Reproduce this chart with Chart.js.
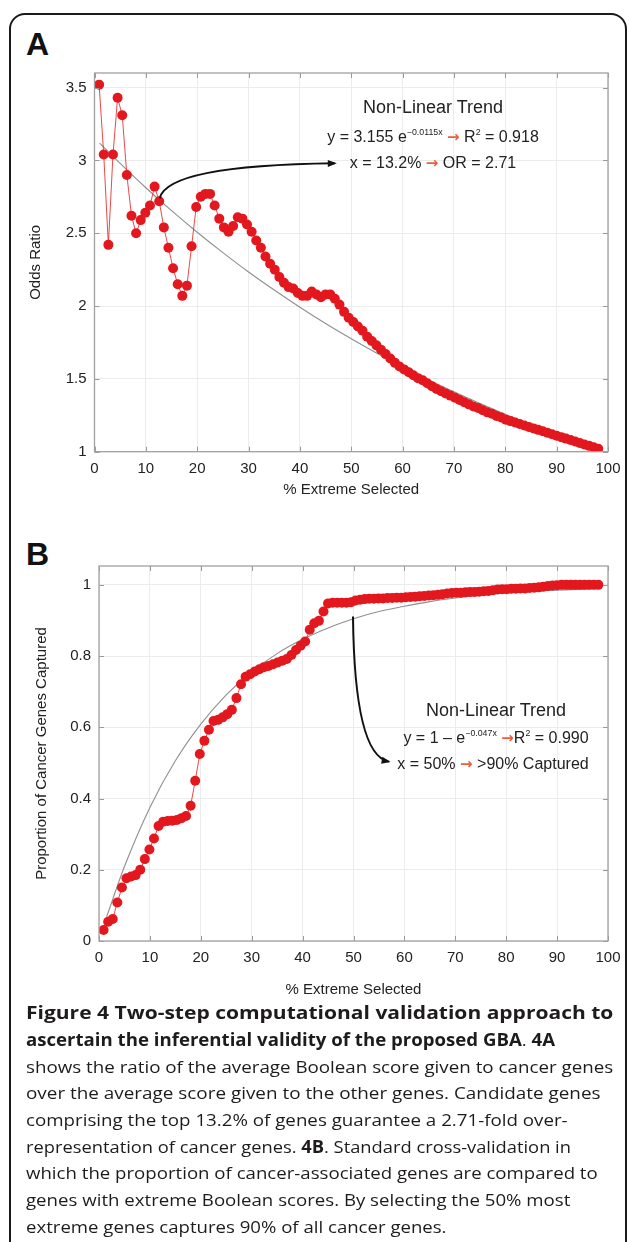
<!DOCTYPE html>
<html><head><meta charset="utf-8">
<script src="https://cdn.jsdelivr.net/npm/chart.js@4.4.0/dist/chart.umd.min.js"></script>
<style>
html,body{margin:0;padding:0;background:#fff;}
body{width:629px;height:1242px;position:relative;overflow:hidden;font-family:"Liberation Sans",Arial,sans-serif;}
#frame{position:absolute;left:9px;top:13px;width:618px;height:1300px;border:2px solid #1a1a1a;border-radius:16px;box-sizing:border-box;}
.panel{position:absolute;left:26px;font-weight:bold;font-size:32px;line-height:32px;color:#111;}
canvas{position:absolute;left:0;}
.ann{position:absolute;color:#222;white-space:nowrap;transform:translate(-50%,-50%);line-height:20px;}
.ann.t{font-size:18px;}
.ann.e{font-size:16px;}
.arr{color:#e8603a;font-family:"DejaVu Sans",sans-serif;font-weight:bold;font-size:15px;}
sup{font-size:0.55em;vertical-align:0.75em;line-height:0;}
.cap{position:absolute;left:26px;white-space:nowrap;font-family:"Open Sans",sans-serif;font-size:17px;line-height:20px;color:#1e1b1c;transform-origin:0 50%;}
.cap.b{font-weight:bold;}
</style>
</head><body>
<div id="frame"></div>
<div class="panel" style="top:28px">A</div>
<div class="panel" style="top:538px">B</div>
<canvas id="cA" width="629" height="520" style="top:0"></canvas>
<canvas id="cB" width="629" height="490" style="top:520px"></canvas>

<div class="ann t" style="left:433px;top:107px">Non-Linear Trend</div>
<div class="ann e" style="left:433px;top:137px">y = 3.155 e<sup>−0.0115x</sup> <span class="arr">→</span> R<sup>2</sup> = 0.918</div>
<div class="ann e" style="left:433px;top:163px">x = 13.2% <span class="arr">→</span> OR = 2.71</div>

<div class="ann t" style="left:496px;top:710px">Non-Linear Trend</div>
<div class="ann e" style="left:496px;top:738px">y = 1 – e<sup>−0.047x</sup> <span class="arr">→</span>R<sup>2</sup> = 0.990</div>
<div class="ann e" style="left:493px;top:764px">x = 50% <span class="arr">→</span> &gt;90% Captured</div>

<div class="cap b" data-w="587" style="top:1003px">Figure 4 Two-step computational validation approach to</div>
<div class="cap b" data-w="529" style="top:1030px">ascertain the inferential validity of the proposed GBA<span style="font-weight:normal">.</span> 4A</div>
<div class="cap" data-w="587" style="top:1057px">shows the ratio of the average Boolean score given to cancer genes</div>
<div class="cap" data-w="574" style="top:1083px">over the average score given to the other genes. Candidate genes</div>
<div class="cap" data-w="542" style="top:1110px">comprising the top 13.2% of genes guarantee a 2.71-fold over-</div>
<div class="cap" data-w="545" style="top:1137px">representation of cancer genes. <b>4B</b>. Standard cross-validation in</div>
<div class="cap" data-w="572" style="top:1163px">which the proportion of cancer-associated genes are compared to</div>
<div class="cap" data-w="544" style="top:1190px">genes with extreme Boolean scores. By selecting the 50% most</div>
<div class="cap" data-w="421" style="top:1217px">extreme genes captures 90% of all cancer genes.</div>

<script>
// ---------- Data ----------
const xA = [0.9,1.8,2.7,3.6,4.5,5.4,6.3,7.2,8.1,9.0,9.9,10.8,11.7,12.6,13.5,14.4,15.3,16.2,17.1,18.0,
  18.9,19.8,20.7,21.6,22.5,23.4,24.3,25.2,26.1,27.0,27.9,28.8,29.7,30.6,31.5,32.4,33.3,34.2,35.1,36.0,
  36.9,37.8,38.7,39.6,40.5,41.4,42.3,43.2,44.1,45.0,45.9,46.8,47.7,48.6,49.5,50.4,51.3,52.2,53.1,54.0,
  54.9,55.8,56.7,57.6,58.5,59.4,60.3,61.2,62.1,63.0,63.9,64.8,65.7,66.6,67.5,68.4,69.3,70.2,71.1,72.0,
  72.9,73.8,74.7,75.6,76.5,77.4,78.3,79.2,80.1,81.0,81.9,82.8,83.7,84.6,85.5,86.4,87.3,88.2,89.1,90.0,
  90.9,91.8,92.7,93.6,94.5,95.4,96.3,97.2,98.1];
const oddsRatio = [3.52,3.04,2.42,3.04,3.43,3.31,2.90,2.62,2.50,2.59,2.64,2.69,2.82,2.72,2.54,2.40,2.26,2.15,2.07,2.14,
  2.41,2.68,2.75,2.77,2.77,2.69,2.60,2.54,2.51,2.55,2.61,2.60,2.56,2.51,2.45,2.40,2.34,2.29,2.25,2.20,
  2.16,2.13,2.12,2.09,2.07,2.07,2.10,2.08,2.06,2.08,2.08,2.05,2.01,1.96,1.92,1.89,1.86,1.83,1.79,1.76,
  1.73,1.70,1.67,1.64,1.61,1.585,1.565,1.545,1.525,1.505,1.49,1.47,1.45,1.43,1.415,1.40,1.385,1.37,1.355,1.34,
  1.325,1.31,1.30,1.285,1.27,1.26,1.245,1.235,1.22,1.21,1.20,1.19,1.18,1.17,1.16,1.15,1.14,1.13,1.12,1.11,
  1.10,1.09,1.08,1.07,1.06,1.05,1.04,1.03,1.02];
const xB = xA;
const captured = [0.031,0.054,0.062,0.108,0.150,0.176,0.181,0.185,0.200,0.230,0.257,0.288,0.323,0.335,0.337,0.338,0.340,0.345,0.351,0.380,
  0.450,0.525,0.562,0.593,0.618,0.621,0.628,0.637,0.649,0.682,0.721,0.742,0.749,0.757,0.763,0.769,0.772,0.777,0.782,0.787,
  0.792,0.803,0.817,0.829,0.841,0.874,0.892,0.899,0.925,0.948,0.950,0.950,0.950,0.950,0.951,0.956,0.958,0.960,0.961,0.961,
  0.962,0.962,0.963,0.963,0.964,0.964,0.965,0.966,0.967,0.968,0.969,0.970,0.971,0.972,0.974,0.976,0.977,0.978,0.978,0.979,
  0.980,0.980,0.981,0.982,0.983,0.985,0.987,0.988,0.988,0.989,0.989,0.990,0.990,0.991,0.992,0.993,0.995,0.997,0.998,0.999,
  1.000,1.000,1.000,1.000,1.000,1.000,1.000,1.000,1.000];
// fitted trend curves
const trendAx = [1,5,10,15,20,25,30,35,40,45,50,55,60,65,70,75,80,85,90,95,98];
const trendAy = [3.119,2.979,2.812,2.655,2.507,2.367,2.234,2.110,1.992,1.880,1.775,1.676,1.583,1.494,1.411,1.332,1.257,1.187,1.121,1.058,1.022];
const trendBx = [1.5,5,10,15,20,25,30,35,40,45,50,55,60,65,70,75,80,85,90,95,98];
const trendBy = [0.068,0.209,0.375,0.506,0.609,0.691,0.756,0.807,0.847,0.879,0.905,0.925,0.940,0.953,0.963,0.971,0.977,0.982,0.985,0.988,0.990];
const xTicks = [0,10,20,30,40,50,60,70,80,90,100];

// ---------- helpers ----------
const pts = (xs, ys) => xs.map((x, i) => ({x, y: ys[i]}));
const RED = '#e3171e';
const TXT = '#222';

const frameAndTicks = {
  id: 'frameAndTicks',
  afterDraw(chart) {
    const {ctx, chartArea: a, scales: {x, y}} = chart;
    ctx.save();
    ctx.strokeStyle = '#9a9a9a';
    ctx.lineWidth = 1;
    x.ticks.forEach(t => {
      const p = Math.round(x.getPixelForValue(t.value)) + 0.5;
      ctx.beginPath();
      ctx.moveTo(p, a.bottom); ctx.lineTo(p, a.bottom - 5);
      ctx.moveTo(p, a.top); ctx.lineTo(p, a.top + 5);
      ctx.stroke();
    });
    y.ticks.forEach(t => {
      const p = Math.round(y.getPixelForValue(t.value)) + 0.5;
      ctx.beginPath();
      ctx.moveTo(a.left, p); ctx.lineTo(a.left + 5, p);
      ctx.moveTo(a.right, p); ctx.lineTo(a.right - 5, p);
      ctx.stroke();
    });
    ctx.strokeStyle = '#a0a0a0';
    ctx.lineWidth = 1.3;
    ctx.strokeRect(a.left, a.top, a.right - a.left, a.bottom - a.top);
    ctx.restore();
  }
};

const curvedArrow = {
  id: 'curvedArrow',
  afterDatasetsDraw(chart, args, opts) {
    const {ctx, scales: {x, y}} = chart;
    const P = p => [x.getPixelForValue(p[0]), y.getPixelForValue(p[1])];
    const [a, b, c] = [P(opts.p0), P(opts.p1), P(opts.p2)];
    ctx.save();
    ctx.strokeStyle = '#111';
    ctx.fillStyle = '#111';
    ctx.lineWidth = 2;
    ctx.beginPath();
    ctx.moveTo(a[0], a[1]);
    ctx.quadraticCurveTo(b[0], b[1], c[0], c[1]);
    ctx.stroke();
    const ang = Math.atan2(c[1] - b[1], c[0] - b[0]);
    const L = 7, W = 3.5;
    ctx.beginPath();
    ctx.moveTo(c[0] + Math.cos(ang) * 2, c[1] + Math.sin(ang) * 2);
    ctx.lineTo(c[0] - Math.cos(ang) * L + Math.sin(ang) * W, c[1] - Math.sin(ang) * L - Math.cos(ang) * W);
    ctx.lineTo(c[0] - Math.cos(ang) * L - Math.sin(ang) * W, c[1] - Math.sin(ang) * L + Math.cos(ang) * W);
    ctx.closePath();
    ctx.fill();
    ctx.restore();
  }
};

function makeChart(id, cfg) {
  return new Chart(document.getElementById(id), {
    type: 'scatter',
    data: {
      datasets: [
        {data: pts(cfg.xs, cfg.ys), showLine: true, borderColor: 'rgba(232,40,40,0.85)', borderWidth: 1,
         pointRadius: 5, pointBackgroundColor: RED, pointBorderColor: RED, pointBorderWidth: 0, order: 1},
        {data: pts(cfg.tx, cfg.ty), showLine: true, borderColor: '#8f8f8f', borderWidth: 1.1,
         pointRadius: 0, cubicInterpolationMode: 'monotone', order: 2}
      ]
    },
    options: {
      responsive: false, animation: false,
      layout: {padding: {left: 0, top: cfg.padTop, right: 21, bottom: 0}},
      plugins: {legend: {display: false}, tooltip: {enabled: false}, curvedArrow: cfg.arrow},
      scales: {
        x: {
          type: 'linear', min: 0, max: 100,
          afterBuildTicks: s => { s.ticks = xTicks.map(v => ({value: v})); },
          afterFit: s => { s.height = cfg.xAxisH; },
          grid: {color: '#ececec', drawTicks: false},
          border: {display: false},
          ticks: {padding: 8, color: TXT, font: {family: 'Liberation Sans', size: 15}, maxRotation: 0},
          title: {display: true, text: '% Extreme Selected', color: TXT,
                  font: {family: 'Liberation Sans', size: 15}, padding: {top: 0, bottom: cfg.xTitlePad}}
        },
        y: {
          type: 'linear', min: cfg.ymin, max: cfg.ymax,
          afterBuildTicks: s => { s.ticks = cfg.yTicks.map(v => ({value: v})); },
          afterFit: s => { s.width = cfg.yAxisW; },
          grid: {color: '#ececec', drawTicks: false},
          border: {display: false},
          ticks: {padding: 8, color: TXT, font: {family: 'Liberation Sans', size: 15},
                  callback: v => String(+v.toFixed(2))},
          title: {display: true, text: cfg.yTitle, color: TXT,
                  font: {family: 'Liberation Sans', size: 15}, padding: {top: cfg.yTitlePad, bottom: 0}}
        }
      }
    },
    plugins: [frameAndTicks, curvedArrow]
  });
}

makeChart('cA', {
  xs: xA, ys: oddsRatio, tx: trendAx, ty: trendAy,
  ymin: 1, ymax: 3.6, yTicks: [1, 1.5, 2, 2.5, 3, 3.5],
  padTop: 73, xAxisH: 68.3, yAxisW: 94.5, xTitlePad: 21, yTitlePad: 27,
  yTitle: 'Odds Ratio',
  arrow: {p0: [12.7, 2.74], p1: [14.2, 2.966], p2: [46.8, 2.98]}
});
makeChart('cB', {
  xs: xB, ys: captured, tx: trendBx, ty: trendBy,
  ymin: 0, ymax: 1.053, yTicks: [0, 0.2, 0.4, 0.6, 0.8, 1],
  padTop: 46, xAxisH: 69, yAxisW: 99, xTitlePad: 11, yTitlePad: 33,
  yTitle: 'Proportion of Cancer Genes Captured',
  arrow: {p0: [49.9, 0.911], p1: [50.2, 0.522], p2: [56.9, 0.504]}
});

// fit caption lines to the measured widths
document.querySelectorAll('.cap').forEach(el => {
  const w = +el.dataset.w, n = el.scrollWidth;
  el.style.transform = 'scaleX(' + (w / n).toFixed(4) + ')';
});
</script>
</body></html>
